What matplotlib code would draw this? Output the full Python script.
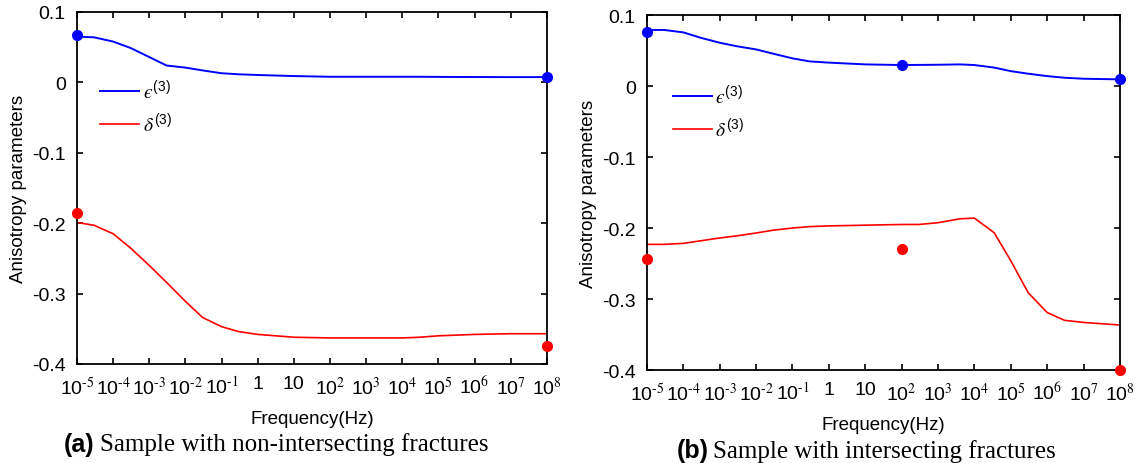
import numpy as np
import matplotlib
matplotlib.use('Agg')
import matplotlib.pyplot as plt

plt.rcParams['font.family'] = ['Liberation Sans', 'DejaVu Sans']
plt.rcParams['mathtext.fontset'] = 'stix'
plt.rcParams['axes.unicode_minus'] = False

# frequency grid (Hz) for the curves, half-decade steps
freq_a = [1e-5, 3e-5, 1e-4, 3e-4, 1e-3, 3e-3, 1e-2, 3e-2, 1e-1, 3e-1, 1, 10, 1e2, 1e3,
          1e4, 3e4, 1e5, 1e6, 1e7, 1e8]
eps_a = [0.065, 0.064, 0.058, 0.049, 0.036, 0.024, 0.021, 0.017, 0.013, 0.0115, 0.0105,
         0.009, 0.008, 0.008, 0.008, 0.008, 0.0078, 0.0076, 0.0075, 0.0075]
delta_a = [-0.199, -0.203, -0.215, -0.235, -0.260, -0.284, -0.311, -0.334, -0.347, -0.354,
           -0.358, -0.362, -0.363, -0.363, -0.363, -0.362, -0.360, -0.358, -0.357, -0.357]
pts_freq_a = [1e-5, 1e8]
pts_eps_a = [0.067, 0.007]
pts_delta_a = [-0.185, -0.375]

freq_b = [1e-5, 3e-5, 1e-4, 3e-4, 1e-3, 3e-3, 1e-2, 3e-2, 1e-1, 3e-1, 1, 10, 1e2, 3e2,
          1e3, 4e3, 1e4, 3.5e4, 1e5, 3e5, 1e6, 3e6, 1e7, 1e8]
eps_b = [0.079, 0.079, 0.0756, 0.068, 0.061, 0.056, 0.0516, 0.0455, 0.039, 0.0347, 0.033,
         0.0305, 0.0296, 0.0298, 0.030, 0.0305, 0.0296, 0.026, 0.021, 0.0174, 0.014, 0.0117,
         0.0103, 0.0094]
delta_b = [-0.223, -0.223, -0.2216, -0.218, -0.214, -0.211, -0.207, -0.203, -0.200, -0.198,
           -0.197, -0.196, -0.195, -0.195, -0.1925, -0.187, -0.186, -0.2066, -0.246, -0.291,
           -0.319, -0.330, -0.333, -0.3366]
pts_freq_b = [1e-5, 1e2, 1e8]
pts_eps_b = [0.0765, 0.030, 0.0094]
pts_delta_b = [-0.243, -0.230, -0.400]

exps = list(range(-5, 9))
xticks = [10.0**k for k in exps]
xlabels = []
for k in exps:
    if k == 0:
        xlabels.append('1')
    elif k == 1:
        xlabels.append('10')
    else:
        xlabels.append('$\\mathregular{10^{\\text{%d}}}$' % k)
yticks = [0.1, 0, -0.1, -0.2, -0.3, -0.4]
ylabels = ['0.1', '0', '-0.1', '-0.2', '-0.3', '-0.4']

fig = plt.figure(figsize=(11.35, 4.64), dpi=100)
ax1 = fig.add_axes([0.0678, 0.2134, 0.414, 0.7586])
ax2 = fig.add_axes([0.570, 0.2004, 0.4167, 0.765])

panels = [
    (ax1, freq_a, eps_a, delta_a, pts_freq_a, pts_eps_a, pts_delta_a, (0.032, 0.835)),
    (ax2, freq_b, eps_b, delta_b, pts_freq_b, pts_eps_b, pts_delta_b, (0.038, 0.83)),
]

for ax, f, e, d, pf, pe, pd, legpos in panels:
    ax.plot(f, e, color='#0000ff', lw=1.4, label='$\u03f5^{\\mathregular{(3)}}$')
    ax.plot(f, d, color='#ff0000', lw=1.2, label='$\\delta^{\\mathregular{(3)}}$')
    ax.plot(pf, pe, 'o', color='#0000ff', ms=7, clip_on=False, zorder=5)
    ax.plot(pf, pd, 'o', color='#ff0000', ms=7, clip_on=False, zorder=5)
    ax.set_xscale('log')
    ax.set_xlim(1e-5, 1e8)
    ax.set_ylim(-0.4, 0.1)
    ax.set_xticks(xticks)
    ax.set_xticklabels(xlabels)
    ax.minorticks_off()
    ax.set_yticks(yticks)
    ax.set_yticklabels(ylabels)
    ax.tick_params(direction='in', top=True, right=True, length=4, width=1.2,
                   labelsize=14, pad=8)
    for s in ax.spines.values():
        s.set_linewidth(1.3)
    ax.set_xlabel('Frequency(Hz)', fontsize=13.5, labelpad=9)
    ax.set_ylabel('Anisotropy parameters', fontsize=13.5, labelpad=4)
    ax.legend(loc='upper left', bbox_to_anchor=legpos, frameon=False, fontsize=14,
              handlelength=2.0, handletextpad=0.2, labelspacing=0.45, borderaxespad=0)

fig.text(0.056, 0.041, '(a)', fontsize=18, fontweight='bold', ha='left', va='center')
fig.text(0.088, 0.041, 'Sample with non-intersecting fractures', fontsize=18,
         family='Liberation Serif', ha='left', va='center')
fig.text(0.596, 0.028, '(b)', fontsize=18, fontweight='bold', ha='left', va='center')
fig.text(0.628, 0.028, 'Sample with intersecting fractures', fontsize=18,
         family='Liberation Serif', ha='left', va='center')

plt.savefig('out.png', dpi=100)
